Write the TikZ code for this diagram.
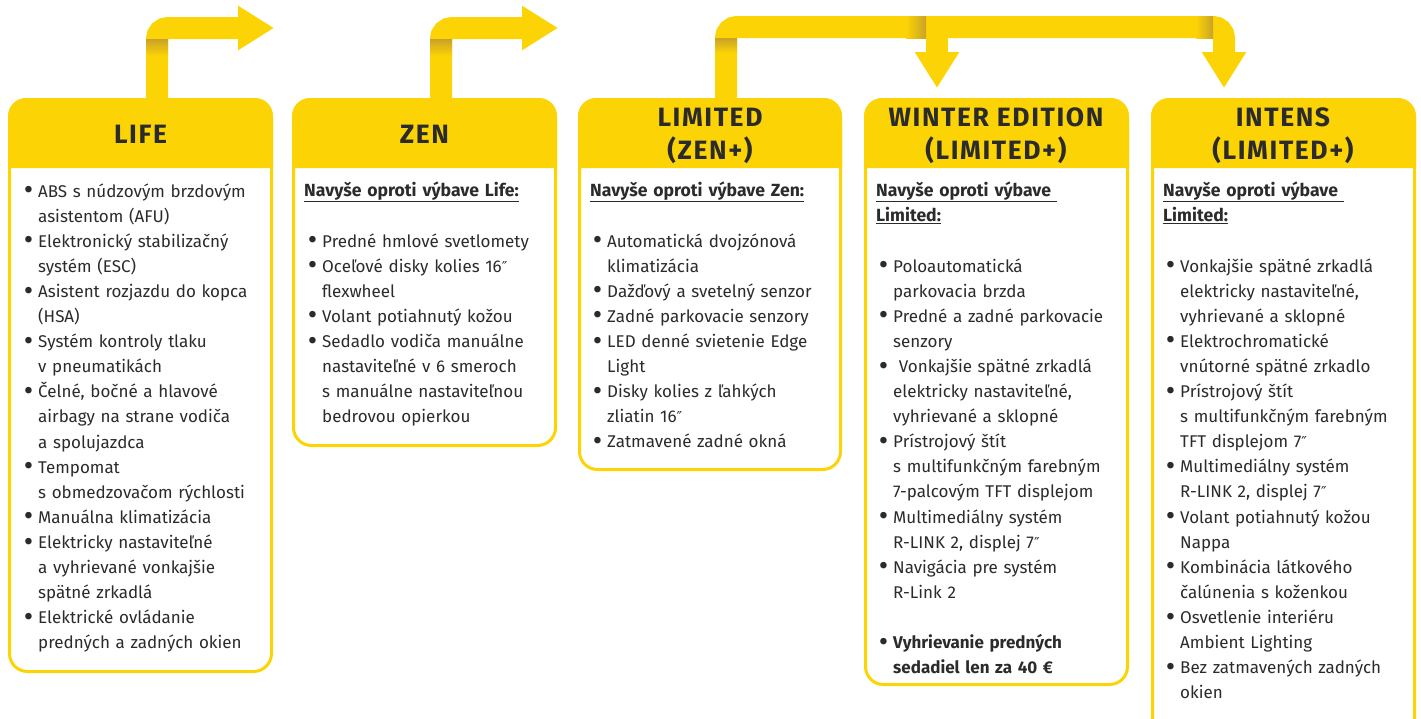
\documentclass[tikz,border=0pt]{standalone}
\usepackage{fontspec}
\setmainfont{Fira Sans}
\newfontfamily\titlefont[LetterSpace=6]{Fira Sans}
\newfontfamily\symfont{DejaVu Sans}
\usetikzlibrary{arrows.meta}

\definecolor{rnyellow}{HTML}{FCD405}
\definecolor{rnshadow}{HTML}{C9A227}
\definecolor{rntext}{HTML}{2B2B2B}

\newcommand{\itm}{\leavevmode\llap{\smash{\raisebox{-2.6pt}{\scalebox{1.7}{\textbullet}}}\hspace{5pt}}}
\newcommand{\inch}{{\symfont\fontsize{15}{25.1}\selectfont ″}}

\begin{document}
\begin{tikzpicture}[x=1pt,y=-1pt,
    title/.style={font=\titlefont\bfseries\fontsize{26.5}{33}\selectfont, text=rntext, align=center, inner sep=0pt},
    body/.style={font=\fontsize{17}{25.1}\selectfont, text=rntext, align=left, text width=250pt, anchor=base west, inner sep=0pt},
    subhead/.style={body, font=\bfseries\fontsize{17.6}{25.1}\selectfont},
    frame/.style={draw=rnyellow, line width=3pt, rounded corners=18pt, fill=white},
    band/.style={draw=rnyellow, line width=22pt, rounded corners=11pt, -{Triangle[width=42pt,length=36pt]}}
]
\useasboundingbox (0,0) rectangle (1421,718);

% boxes with yellow heads
\foreach \l/\r/\b in {8/273/673, 292/557/447, 578/842/471, 864/1129/686, 1151/1416/760} {
    \draw[frame] (\l+1.5,99.5) rectangle (\r-1.5,\b-1.5);
    \fill[rnyellow] (\l,168) [rounded corners=18pt] -- (\l,98) -- (\r,98) [sharp corners] -- (\r,168) -- cycle;
}

% titles
\node[title] (life) at (140.5,134) {LIFE};
\node[title] (zen) at (424.5,134) {ZEN};
\node[title] (limited) at (710,136) {LIMITED\\(ZEN+)};
\node[title] (winter) at (996,136) {WINTER EDITION\\(LIMITED+)};
\node[title] (intens) at (1283,136) {INTENS\\(LIMITED+)};

% arrows
\coordinate (lifeup) at (157,98);
\coordinate (lifeend) at (274,28);
\coordinate (zenup) at (441,98);
\coordinate (zenend) at (558,28);
\coordinate (limup) at (726,98);
\coordinate (wintop) at (937,88);
\coordinate (inttop) at (1224,88);

\draw[band] (lifeup) |- (lifeend);
\draw[band] (zenup) |- (zenend);
\draw[band] (limup) |- (1224,27) -- (inttop);
\draw[band] (937,27) -- (wintop);

\shade[top color=rnshadow, bottom color=rnyellow] (146,39) rectangle (168,56);
\shade[top color=rnshadow, bottom color=rnyellow] (430,39) rectangle (452,56);
\shade[top color=rnshadow, bottom color=rnyellow] (715,38) rectangle (737,53);
\shade[left color=rnyellow, right color=rnshadow] (906,16) rectangle (926,38);
\shade[left color=rnyellow, right color=rnshadow] (1196,16) rectangle (1213,38);

% texts
\node[body] (lifelist) at (38,197) {\itm ABS s núdzovým brzdovým\\
asistentom (AFU)\\
\itm Elektronický stabilizačný\\
systém (ESC)\\
\itm Asistent rozjazdu do kopca\\
(HSA)\\
\itm Systém kontroly tlaku\\
v pneumatikách\\
\itm Čelné, bočné a hlavové\\
airbagy na strane vodiča\\
a spolujazdca\\
\itm Tempomat\\
s obmedzovačom rýchlosti\\
\itm Manuálna klimatizácia\\
\itm Elektricky nastaviteľné\\
a vyhrievané vonkajšie\\
spätné zrkadlá\\
\itm Elektrické ovládanie\\
predných a zadných okien};

\node[subhead] (zenhead) at (304,196) {\underline{Navyše oproti výbave Life:}};
\node[body] (zenlist) at (322,247) {\itm Predné hmlové svetlomety\\
\itm Oceľové disky kolies 16\inch\\
flexwheel\\
\itm Volant potiahnutý kožou\\
\itm Sedadlo vodiča manuálne\\
nastaviteľné v 6 smeroch\\
s manuálne nastaviteľnou\\
bedrovou opierkou};

\node[subhead] (limhead) at (590,196) {\underline{Navyše oproti výbave Zen:}};
\node[body] (limlist) at (607,247) {\itm Automatická dvojzónová\\
klimatizácia\\
\itm Dažďový a svetelný senzor\\
\itm Zadné parkovacie senzory\\
\itm LED denné svietenie Edge\\
Light\\
\itm Disky kolies z ľahkých\\
zliatin 16\inch\\
\itm Zatmavené zadné okná};

\node[subhead] (winhead) at (876,196) {\underline{Navyše oproti výbave\ }\\\underline{Limited:}};
\node[body] (winlist) at (893,272) {\itm Poloautomatická\\
parkovacia brzda\\
\itm Predné a zadné parkovacie\\
senzory\\
\itm\ Vonkajšie spätné zrkadlá\\
elektricky nastaviteľné,\\
vyhrievané a sklopné\\
\itm Prístrojový štít\\
s multifunkčným farebným\\
7-palcovým TFT displejom\\
\itm Multimediálny systém\\
R-LINK 2, displej 7\inch\\
\itm Navigácia pre systém\\
R-Link 2\\[25.1pt]
\itm\textbf{Vyhrievanie predných}\\
\textbf{sedadiel len za 40 €}};

\node[subhead] (inthead) at (1163,196) {\underline{Navyše oproti výbave\ }\\\underline{Limited:}};
\node[body] (intlist) at (1180,272) {\itm Vonkajšie spätné zrkadlá\\
elektricky nastaviteľné,\\
vyhrievané a sklopné\\
\itm Elektrochromatické\\
vnútorné spätné zrkadlo\\
\itm Prístrojový štít\\
s multifunkčným farebným\\
TFT displejom 7\inch\\
\itm Multimediálny systém\\
R-LINK 2, displej 7\inch\\
\itm Volant potiahnutý kožou\\
Nappa\\
\itm Kombinácia látkového\\
čalúnenia s koženkou\\
\itm Osvetlenie interiéru\\
Ambient Lighting\\
\itm Bez zatmavených zadných\\
okien};

\end{tikzpicture}
\end{document}
